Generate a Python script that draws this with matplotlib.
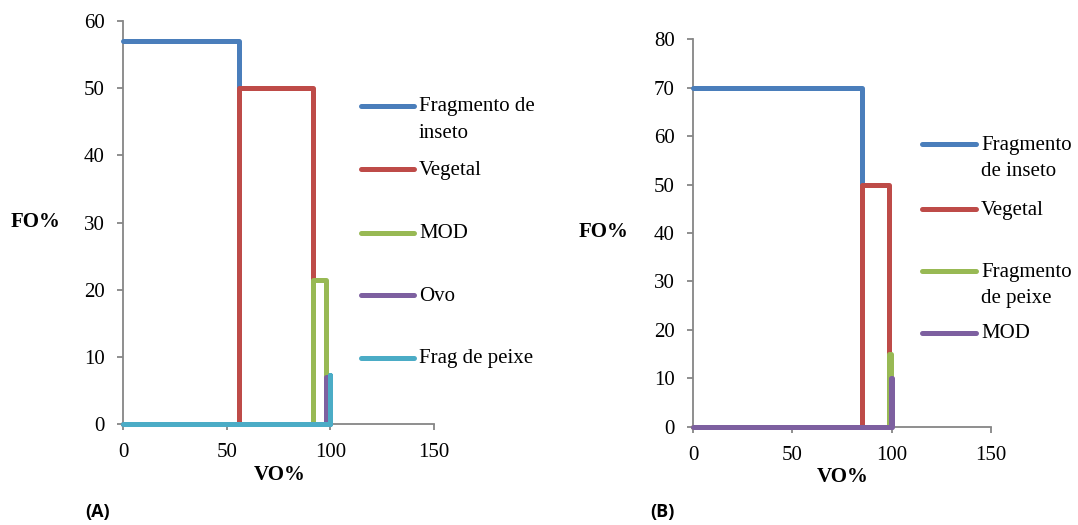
import matplotlib
matplotlib.use("Agg")
import matplotlib.pyplot as plt
from matplotlib.lines import Line2D

plt.rcParams['font.family'] = ['Liberation Serif', 'DejaVu Serif']

# Panel A: food items, VO% interval (start, end) and FO%
a_items = ["Fragmento de\ninseto", "Vegetal", "MOD", "Ovo", "Frag de peixe"]
a_vo_start = [0, 56, 91.5, 98, 99.6]
a_vo_end = [56, 91.5, 98, 99.6, 100]
a_fo = [57, 50, 21.5, 7.0, 7.3]

# Panel B
b_items = ["Fragmento\nde inseto", "Vegetal", "Fragmento\nde peixe", "MOD"]
b_vo_start = [0, 85, 98.5, 99.5]
b_vo_end = [85, 98.5, 99.5, 100]
b_fo = [70, 50, 15, 10]

colors = ["#4A7EBB", "#BE4B48", "#98B954", "#7D60A0", "#4BACC6"]
W, H = 1078, 525
grey = "#868686"


def fx(px):
    return px / W


def fy(py):
    return 1 - py / H


def draw_panel(ax, starts, ends, fos, ymax, ystep):
    for i, (s, e, f) in enumerate(zip(starts, ends, fos)):
        if s > 0:
            xs = [0, s, s, e, e]
            ys = [0, 0, f, f, 0]
        else:
            xs = [s, e, e]
            ys = [f, f, 0]
        ax.plot(xs, ys, color=colors[i], lw=3.6, solid_capstyle='round',
                solid_joinstyle='round', clip_on=False, zorder=3 + i)
    ax.set_xlim(0, 150)
    ax.set_ylim(0, ymax)
    ax.set_xticks([0, 50, 100, 150])
    ax.set_yticks(range(0, ymax + 1, ystep))
    for side in ("top", "right"):
        ax.spines[side].set_visible(False)
    for side in ("left", "bottom"):
        ax.spines[side].set_color(grey)
        ax.spines[side].set_linewidth(1.3)
    ax.tick_params(axis='both', direction='out', length=4, width=1.3,
                   color=grey, labelsize=15, labelcolor='black')
    ax.tick_params(axis='x', pad=10)
    ax.tick_params(axis='y', pad=9)


def draw_legend(fig, items, ys, x0, x1, tx):
    for i, (lab, y) in enumerate(zip(items, ys)):
        fig.add_artist(Line2D([fx(x0), fx(x1)], [fy(y), fy(y)],
                              color=colors[i], lw=3.6, solid_capstyle='round'))
        for j, line in enumerate(lab.split("\n")):
            fig.text(fx(tx), fy(y + 6 + j * 26), line, fontsize=15,
                     ha='left', va='baseline')


fig = plt.figure(figsize=(W / 100, H / 100), dpi=100)

ax_a = fig.add_axes([fx(123), fy(424), fx(434 - 123), (424 - 21) / H])
draw_panel(ax_a, a_vo_start, a_vo_end, a_fo, 60, 10)

ax_b = fig.add_axes([fx(693), fy(426.5), fx(991 - 693), (426.5 - 39.3) / H])
draw_panel(ax_b, b_vo_start, b_vo_end, b_fo, 80, 10)

draw_legend(fig, a_items, [105.5, 169, 232.5, 295, 357.5], 361, 414, 419)
draw_legend(fig, b_items, [144, 209, 270.5, 332.5], 922, 976, 981)

fig.text(fx(36), fy(222), "FO%", fontsize=15, fontweight='bold', ha='center', va='center')
fig.text(fx(604), fy(232), "FO%", fontsize=15, fontweight='bold', ha='center', va='center')
fig.text(fx(280), fy(475), "VO%", fontsize=15, fontweight='bold', ha='center', va='center')
fig.text(fx(843), fy(477), "VO%", fontsize=15, fontweight='bold', ha='center', va='center')

fig.text(fx(85), fy(512), "(A)", fontsize=13, fontweight='bold', family='Open Sans',
         ha='left', va='center')
fig.text(fx(650), fy(512), "(B)", fontsize=13, fontweight='bold', family='Open Sans',
         ha='left', va='center')

fig.savefig("out.png", dpi=100)
